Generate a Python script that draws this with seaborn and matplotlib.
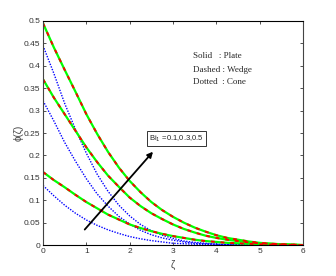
import numpy as np
import pandas as pd
import matplotlib
matplotlib.use("Agg")
import matplotlib.pyplot as plt
import seaborn as sns

zeta = [0, 0.25, 0.5, 0.75, 1.0, 1.25, 1.5, 1.75, 2.0, 2.25, 2.5, 2.75, 3.0,
        3.25, 3.5, 3.75, 4.0, 4.25, 4.5, 4.75, 5.0, 5.25, 5.5, 5.75, 6.0]

plate_bi05 = [0.495, 0.441, 0.391, 0.342, 0.292, 0.248, 0.208, 0.173, 0.143, 0.118, 0.096, 0.078, 0.063,
              0.050, 0.039, 0.030, 0.022, 0.016, 0.012, 0.008, 0.005, 0.003, 0.002, 0.001, 0.0]
plate_bi03 = [0.370, 0.329, 0.292, 0.255, 0.218, 0.185, 0.155, 0.130, 0.106, 0.087, 0.071, 0.058, 0.046,
              0.036, 0.028, 0.021, 0.016, 0.012, 0.009, 0.006, 0.004, 0.003, 0.0015, 0.001, 0.0]
plate_bi01 = [0.163, 0.145, 0.129, 0.112, 0.096, 0.082, 0.068, 0.057, 0.046, 0.038, 0.031, 0.025, 0.020,
              0.016, 0.012, 0.009, 0.007, 0.005, 0.004, 0.003, 0.002, 0.001, 0.001, 0.0, 0.0]

wedge_bi05 = [0.495, 0.441, 0.391, 0.342, 0.292, 0.248, 0.208, 0.173, 0.143, 0.118, 0.096, 0.078, 0.063,
              0.050, 0.039, 0.030, 0.022, 0.016, 0.012, 0.008, 0.005, 0.003, 0.002, 0.001, 0.0]
wedge_bi03 = [0.370, 0.329, 0.292, 0.255, 0.218, 0.185, 0.155, 0.130, 0.106, 0.087, 0.071, 0.058, 0.046,
              0.036, 0.028, 0.021, 0.016, 0.012, 0.009, 0.006, 0.004, 0.003, 0.0015, 0.001, 0.0]
wedge_bi01 = [0.163, 0.145, 0.129, 0.112, 0.096, 0.082, 0.068, 0.057, 0.046, 0.038, 0.031, 0.025, 0.020,
              0.016, 0.012, 0.009, 0.007, 0.005, 0.004, 0.003, 0.002, 0.001, 0.001, 0.0, 0.0]

cone_bi05 = [0.445, 0.383, 0.316, 0.258, 0.205, 0.158, 0.120, 0.089, 0.065, 0.046, 0.032, 0.022, 0.015,
             0.009, 0.006, 0.004, 0.002, 0.001, 0.001, 0.0, 0.0, 0.0, 0.0, 0.0, 0.0]
cone_bi03 = [0.322, 0.277, 0.229, 0.187, 0.148, 0.114, 0.087, 0.064, 0.047, 0.033, 0.023, 0.016, 0.011,
             0.007, 0.004, 0.003, 0.002, 0.001, 0.0, 0.0, 0.0, 0.0, 0.0, 0.0, 0.0]
cone_bi01 = [0.133, 0.110, 0.089, 0.071, 0.056, 0.044, 0.034, 0.026, 0.019, 0.014, 0.010, 0.007, 0.004,
             0.003, 0.002, 0.001, 0.0, 0.0, 0.0, 0.0, 0.0, 0.0, 0.0, 0.0, 0.0]

xticks = [0, 1, 2, 3, 4, 5, 6]
yticks = [0, 0.05, 0.1, 0.15, 0.2, 0.25, 0.3, 0.35, 0.4, 0.45, 0.5]
ytick_labels = ["0", "0.05", "0.1", "0.15", "0.2", "0.25", "0.3", "0.35", "0.4", "0.45", "0.5"]

sns.set_theme(style="white")
plt.rcParams['font.family'] = ['Liberation Sans', 'DejaVu Sans']

fig = plt.figure(figsize=(3.36, 2.76), dpi=100)
ax = fig.add_axes([0.128, 0.112, 0.774, 0.812])

def make_df(series):
    rows = []
    for name, vals in series.items():
        for z, v in zip(zeta, vals):
            rows.append({"zeta": z, "phi": v, "curve": name})
    return pd.DataFrame(rows)

plate = make_df({"0.5": plate_bi05, "0.3": plate_bi03, "0.1": plate_bi01})
wedge = make_df({"0.5": wedge_bi05, "0.3": wedge_bi03, "0.1": wedge_bi01})
cone = make_df({"0.5": cone_bi05, "0.3": cone_bi03, "0.1": cone_bi01})

sns.lineplot(data=cone, x="zeta", y="phi", units="curve", estimator=None, ax=ax,
             color="#0000ff", linewidth=1.0, linestyle=(0, (1, 1)), sort=False)
sns.lineplot(data=plate, x="zeta", y="phi", units="curve", estimator=None, ax=ax,
             color="#00ff00", linewidth=1.6, sort=False)
sns.lineplot(data=wedge, x="zeta", y="phi", units="curve", estimator=None, ax=ax,
             color="#ff0000", linewidth=1.4, linestyle=(0, (2, 3)), sort=False)

ax.set_xlim(0, 6)
ax.set_ylim(0, 0.5)
ax.set_xticks(xticks)
ax.set_xticklabels([str(t) for t in xticks])
ax.set_yticks(yticks)
ax.set_yticklabels(ytick_labels)
ax.tick_params(axis="both", which="both", direction="in", length=2.5, width=0.6,
               labelsize=6, top=True, right=True, bottom=True, left=True, pad=2,
               colors="#333333")
for s in ax.spines.values():
    s.set_visible(True)
    s.set_color("#444444")
    s.set_linewidth(0.8)
ax.spines["top"].set_color("#000000")
ax.spines["bottom"].set_color("#000000")

ax.set_xlabel("ζ", fontsize=7, labelpad=4, color="#444444")
ax.set_ylabel("ϕ(ζ)", fontsize=7, labelpad=0, color="#444444")

serif = ['Liberation Serif', 'DejaVu Serif']
ax.text(3.46, 0.421, "Solid   : Plate", fontsize=6.5, family=serif, va="center")
ax.text(3.46, 0.391, "Dashed : Wedge", fontsize=6.5, family=serif, va="center")
ax.text(3.46, 0.363, "Dotted  : Cone", fontsize=6.5, family=serif, va="center")

ax.annotate("", xy=(2.58, 0.213), xytext=(0.92, 0.03),
            arrowprops=dict(arrowstyle="-|>", color="black", lw=1.3, mutation_scale=8))
ax.text(2.45, 0.238, r"Bi$_1$ =0.1,0.3,0.5", fontsize=5.5, va="center",
        bbox=dict(boxstyle="square,pad=0.25", fc="white", ec="#333333", lw=0.7))

fig.savefig("out.png", dpi=100)
